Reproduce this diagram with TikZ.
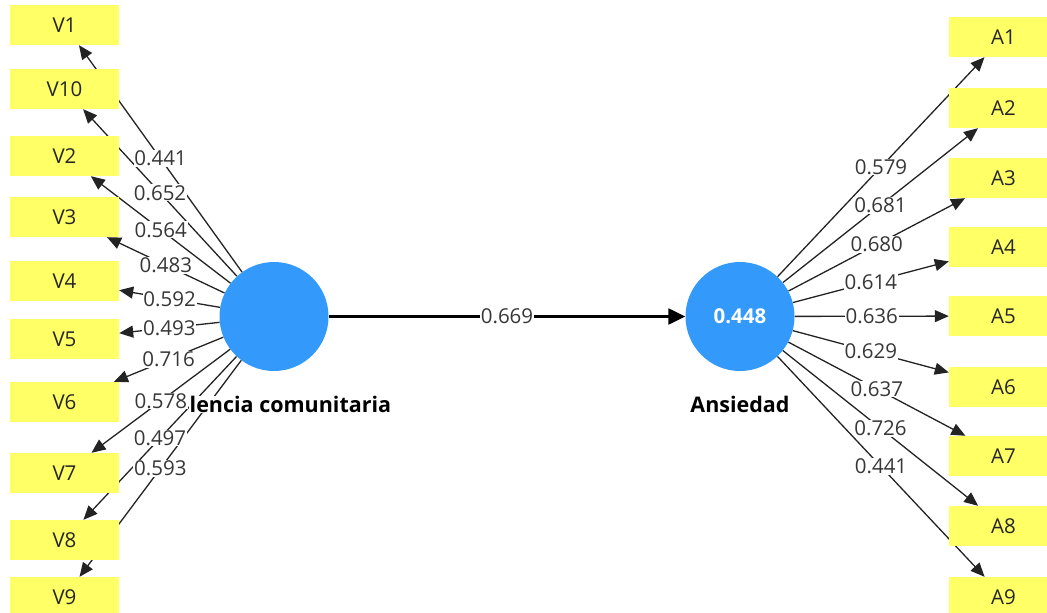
\documentclass[tikz,border=0pt]{standalone}
\usepackage{fontspec}
\setmainfont{Open Sans}
\usetikzlibrary{arrows.meta}
\definecolor{boxyellow}{RGB}{255,255,102}
\definecolor{lvblue}{RGB}{51,153,250}
\definecolor{lblgray}{RGB}{55,55,55}
\definecolor{linegray}{RGB}{35,35,35}
\tikzset{
  ind/.style={fill=boxyellow, minimum width=109pt, minimum height=40pt, inner sep=0pt, font=\fontsize{20.5}{24}\selectfont, text=black!85},
  lv/.style={circle, fill=lvblue, minimum size=109pt, inner sep=0pt, text=white, font=\bfseries\fontsize{20.5}{24}\selectfont},
  ld/.style={draw=linegray, line width=1.3pt, -{Triangle[length=14pt,width=12pt]}},
  mainarr/.style={draw=black, line width=2.4pt, -{Triangle[length=17pt,width=16pt]}},
  lbl/.style={fill=white, inner sep=0.8pt, text=lblgray, font=\fontsize{20.5}{24}\selectfont},
  lvname/.style={font=\bfseries\fontsize{21.5}{25}\selectfont, text=black, fill=white, inner sep=0.5pt}
}
\begin{document}
\begin{tikzpicture}[x=1pt,y=-1pt]
\useasboundingbox (0,0) rectangle (1047,613);
\clip (0,0) rectangle (1047,613);
% latent variables
\coordinate (Cc) at (274,316.5);
\coordinate (Ac) at (740,316.5);
% invisible placeholders for the connectors
\foreach \n/\y in {V1/25,V10/89,V2/156,V3/217,V4/281,V5/339,V6/402,V7/473,V8/540,V9/597}{
  \node[ind,text opacity=0,fill opacity=0] (p\n) at (64.5,\y) {};
}
\foreach \n/\y in {A1/37,A2/108,A3/178,A4/247,A5/316,A6/387,A7/456,A8/526,A9/597}{
  \node[ind,text opacity=0,fill opacity=0] (p\n) at (1003.5,\y) {};
}
\node[lv,fill opacity=0] (pC) at (Cc) {};
\node[lv,fill opacity=0] (pA) at (Ac) {};
% connectors
\foreach \n in {V1,V10,V2,V3,V4,V5,V6,V7,V8,V9}{
  \draw[ld] (pC) -- (p\n);
}
\foreach \n in {A1,A2,A3,A4,A5,A6,A7,A8,A9}{
  \draw[ld] (pA) -- (p\n);
}
\draw[mainarr] (pC) -- (pA);
% indicator boxes
\foreach \n/\y in {V1/25,V10/89,V2/156,V3/217,V4/281,V5/339,V6/402,V7/473,V8/540,V9/597}{
  \node[ind] (\n) at (64.5,\y) {\n};
}
\foreach \n/\y in {A1/37,A2/108,A3/178,A4/247,A5/316,A6/387,A7/456,A8/526,A9/597}{
  \node[ind] (\n) at (1003.5,\y) {\n};
}
% latent variable names
\node[lvname, anchor=west] (Cname) at (189,404.5) {lencia comunitaria};
\node[lvname] (Aname) at (740,404.5) {Ansiedad};
% circles
\node[lv] (C) at (Cc) {};
\node[lv] (A) at (Ac) {0.448};
% loading labels
\path (C) -- (V1) node[midway,lbl] {0.441};
\path (C) -- (V10) node[midway,lbl] {0.652};
\path (C) -- (V2) node[midway,lbl] {0.564};
\path (C) -- (V3) node[midway,lbl] {0.483};
\path (C) -- (V4) node[midway,lbl] {0.592};
\path (C) -- (V5) node[midway,lbl] {0.493};
\path (C) -- (V6) node[midway,lbl] {0.716};
\path (C) -- (V7) node[midway,lbl] {0.578};
\path (C) -- (V8) node[midway,lbl] {0.497};
\path (C) -- (V9) node[midway,lbl] {0.593};
\path (A) -- (A1) node[midway,lbl] {0.579};
\path (A) -- (A2) node[midway,lbl] {0.681};
\path (A) -- (A3) node[midway,lbl] {0.680};
\path (A) -- (A4) node[midway,lbl] {0.614};
\path (A) -- (A5) node[midway,lbl] {0.636};
\path (A) -- (A6) node[midway,lbl] {0.629};
\path (A) -- (A7) node[midway,lbl] {0.637};
\path (A) -- (A8) node[midway,lbl] {0.726};
\path (A) -- (A9) node[midway,lbl] {0.441};
\path (C) -- (A) node[midway,lbl] {0.669};
\end{tikzpicture}
\end{document}
